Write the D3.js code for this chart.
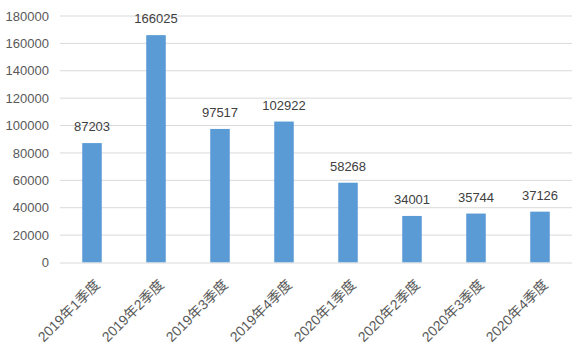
<!DOCTYPE html>
<html>
<head>
<meta charset="utf-8">
<script src="https://cdn.jsdelivr.net/npm/d3@7"></script>
<style>
  body { margin: 0; background: #fff; }
  text { font-family: "Liberation Sans", "Noto Sans CJK SC", sans-serif; }
</style>
</head>
<body>
<div id="chart"></div>
<script>
const categories = ["2019年1季度", "2019年2季度", "2019年3季度", "2019年4季度",
                    "2020年1季度", "2020年2季度", "2020年3季度", "2020年4季度"];
const values = [87203, 166025, 97517, 102922, 58268, 34001, 35744, 37126];
const yTicks = [0, 20000, 40000, 60000, 80000, 100000, 120000, 140000, 160000, 180000];

const W = 582, H = 351;
const margin = { top: 16, right: 10, bottom: 88.5, left: 60 };
const width = W - margin.left - margin.right;
const height = H - margin.top - margin.bottom;

const svg = d3.select("#chart").append("svg")
    .attr("width", W)
    .attr("height", H)
    .append("g")
    .attr("transform", `translate(${margin.left},${margin.top})`);

const x = d3.scaleBand().domain(categories).range([0, width]).paddingInner(0.695).paddingOuter(0.3475);
const y = d3.scaleLinear().domain([0, 180000]).range([height, 0]);

// gridlines
svg.append("g")
    .selectAll("line")
    .data(yTicks.slice(1))
    .enter()
    .append("line")
    .attr("x1", 0).attr("x2", width)
    .attr("y1", d => y(d)).attr("y2", d => y(d))
    .attr("stroke", "#d9d9d9").attr("stroke-width", 1);

// y axis labels
svg.append("g")
    .call(d3.axisLeft(y).tickValues(yTicks).tickSize(0).tickPadding(11).tickFormat(d3.format("d")))
    .call(g => g.select(".domain").remove())
    .selectAll("text")
    .attr("fill", "#595959")
    .style("font-size", "13px");

// bars
svg.selectAll(".bar")
    .data(values)
    .enter()
    .append("rect")
    .attr("class", "bar")
    .attr("x", (d, i) => x(categories[i]))
    .attr("y", d => y(d))
    .attr("width", x.bandwidth())
    .attr("height", d => height - y(d))
    .attr("fill", "#5b9bd5");

// value labels
svg.selectAll(".val")
    .data(values)
    .enter()
    .append("text")
    .attr("class", "val")
    .attr("x", (d, i) => x(categories[i]) + x.bandwidth() / 2)
    .attr("y", d => y(d) - 12)
    .attr("text-anchor", "middle")
    .attr("fill", "#404040")
    .style("font-size", "13px")
    .text(d => d);

// baseline
svg.append("line")
    .attr("x1", 0).attr("x2", width)
    .attr("y1", height + 0.5).attr("y2", height + 0.5)
    .attr("stroke", "#d9d9d9");

// x axis labels
svg.append("g")
    .attr("transform", `translate(0,${height})`)
    .call(d3.axisBottom(x).tickSize(0).tickPadding(0))
    .call(g => g.select(".domain").remove())
    .selectAll("text")
    .attr("fill", "#595959")
    .style("font-size", "14px")
    .attr("dy", 0)
    .attr("transform", "translate(9,23) rotate(-45)")
    .style("text-anchor", "end");
</script>
</body>
</html>
